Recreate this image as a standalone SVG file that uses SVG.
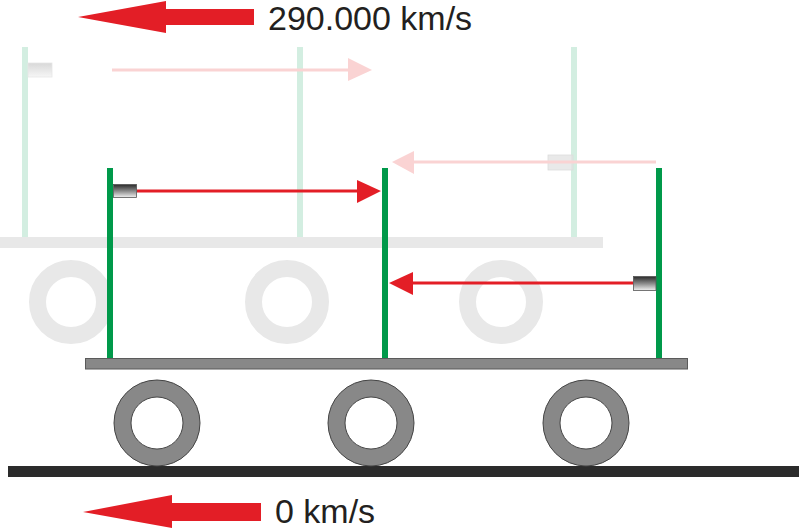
<svg xmlns="http://www.w3.org/2000/svg" width="800" height="529" viewBox="0 0 800 529">
<defs>
<linearGradient id="emit" x1="0" y1="0" x2="0" y2="1">
<stop offset="0" stop-color="#2a2a2a"/>
<stop offset="0.5" stop-color="#8a8a8a"/>
<stop offset="1" stop-color="#f2f2f2"/>
</linearGradient>
<linearGradient id="emitFaded" x1="0" y1="0" x2="0" y2="1">
<stop offset="0" stop-color="#d8d8d8"/>
<stop offset="1" stop-color="#f6f6f6"/>
</linearGradient>
</defs>
<style>
.lbl{font-family:"Liberation Sans",Arial,sans-serif;font-size:34px;fill:#231f20}
.big{fill:#e31e26}
.ray{stroke:#e31e26;stroke-width:3;fill:none}
.rayhead{fill:#e31e26}
.fray{stroke:#fad3d3;stroke-width:3;fill:none}
.frayhead{fill:#fad3d3}
.pole{fill:#00994a}
.fpole{fill:#d3eee1}
.wheel{fill:none;stroke:#888;stroke-width:17}
.wheelEdge{fill:none;stroke:#444;stroke-width:1}
.fwheel{fill:none;stroke:#e8e8e8;stroke-width:17}
</style>
<rect width="800" height="529" fill="#ffffff"/>

<g id="faded-wagon">
<rect x="0" y="237" width="603" height="11" fill="#e8e8e8"/>
<circle class="fwheel" cx="71" cy="302" r="33.5"/>
<circle class="fwheel" cx="287" cy="302" r="33.5"/>
<circle class="fwheel" cx="501" cy="302" r="33.5"/>
<rect class="fpole" x="22" y="47" width="6" height="190"/>
<rect class="fpole" x="297" y="47" width="6" height="190"/>
<rect class="fpole" x="571" y="47" width="6" height="190"/>
<rect x="28" y="63" width="24" height="14" fill="url(#emitFaded)" stroke="#e6e6e6" stroke-width="0.8"/>
<rect x="548" y="155" width="25" height="15" fill="#e4e4e4" fill-opacity="0.8" stroke="#dcdcdc" stroke-width="0.8"/>
</g>

<g id="faded-rays">
<line class="fray" x1="112" y1="70" x2="350" y2="70"/>
<polygon class="frayhead" points="372,70 348,58 348,81"/>
<line class="fray" x1="656" y1="162" x2="412" y2="162"/>
<polygon class="frayhead" points="392,162 414,151 414,174"/>
</g>

<g id="ground">
<rect x="8" y="466" width="791" height="11" fill="#2b2b2b"/>
</g>

<g id="wagon">
<circle class="wheel" cx="157" cy="423" r="34.5"/>
<circle class="wheelEdge" cx="157" cy="423" r="43"/>
<circle class="wheelEdge" cx="157" cy="423" r="26"/>
<circle class="wheel" cx="371" cy="423" r="34.5"/>
<circle class="wheelEdge" cx="371" cy="423" r="43"/>
<circle class="wheelEdge" cx="371" cy="423" r="26"/>
<circle class="wheel" cx="586" cy="423" r="34.5"/>
<circle class="wheelEdge" cx="586" cy="423" r="43"/>
<circle class="wheelEdge" cx="586" cy="423" r="26"/>
<rect x="85.5" y="358.5" width="602" height="10.5" fill="#888888" stroke="#5a5a5a" stroke-width="1"/>
<rect class="pole" x="107" y="168" width="6" height="190"/>
<rect class="pole" x="382" y="168" width="6" height="190"/>
<rect class="pole" x="656" y="168" width="6" height="190"/>
<rect x="113.5" y="184.5" width="23" height="13" fill="url(#emit)" stroke="#555" stroke-width="0.8"/>
<rect x="633.5" y="276.5" width="22.5" height="14" fill="url(#emit)" stroke="#555" stroke-width="0.8"/>
</g>

<g id="rays">
<line class="ray" x1="137" y1="191" x2="360" y2="191"/>
<polygon class="rayhead" points="381,191 357,180 357,203"/>
<line class="ray" x1="633" y1="283" x2="410" y2="283"/>
<polygon class="rayhead" points="389,283 413,272 413,295"/>
</g>

<g id="speed-top">
<polygon class="big" points="78,17 166,1 166,9 254,9 254,25 166,25 166,33"/>
<text class="lbl" x="268" y="30">290.000 km/s</text>
</g>

<g id="speed-bottom">
<polygon class="big" points="83,512 172,495 172,503 261,503 261,521 172,521 172,528"/>
<text class="lbl" x="275" y="523">0 km/s</text>
</g>
</svg>
